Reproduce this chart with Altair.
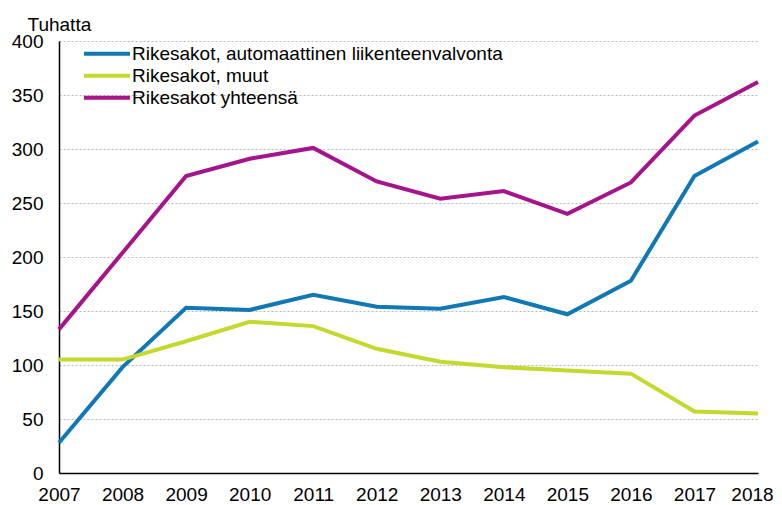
import altair as alt
import pandas as pd

years = list(range(2007, 2019))
auto = [28, 98, 153, 151, 165, 154, 152, 163, 147, 178, 275, 307]
muut = [105, 105, 122, 140, 136, 115, 103, 98, 95, 92, 57, 55]
total = [133, 204, 275, 291, 301, 270, 254, 261, 240, 269, 331, 362]

series = ["Rikesakot, automaattinen liikenteenvalvonta", "Rikesakot, muut", "Rikesakot yhteensä"]
colors = ["#1078b4", "#c4d82e", "#a6148c"]

rows = []
for name, vals in zip(series, [auto, muut, total]):
    for y, v in zip(years, vals):
        rows.append({"Vuosi": y, "Arvo": v, "Sarja": name})
df = pd.DataFrame(rows)

FONT = "Liberation Sans"

chart = alt.Chart(df).mark_line(strokeWidth=4).encode(
    x=alt.X("Vuosi:Q",
            scale=alt.Scale(domain=[2007, 2018], nice=False, zero=False),
            axis=alt.Axis(values=years, format="d", title=None, grid=False,
                          ticks=False, labelPadding=12, labelFlush=False,
                          labelOffset={"condition": {"test": "datum.value == 2018", "value": -6},
                                       "value": 0},
                          domainColor="#000000", domainWidth=1.5)),
    y=alt.Y("Arvo:Q",
            scale=alt.Scale(domain=[0, 400], nice=False),
            axis=alt.Axis(values=list(range(0, 401, 50)), title="Tuhatta",
                          titleAngle=0, titleAlign="left", titleBaseline="alphabetic",
                          titleX=-32, titleY=-11, titleFontWeight="normal",
                          titleFontSize=19, titleFont=FONT, titleColor="#000000",
                          ticks=False, labelPadding=16, grid=True,
                          gridDash=[2, 2], gridColor="#b8b8b8", gridWidth=1,
                          domainColor="#000000", domainWidth=1.5)),
    color=alt.Color("Sarja:N",
                    scale=alt.Scale(domain=series, range=colors),
                    sort=series,
                    legend=alt.Legend(title=None, orient="none", legendX=23, legendY=2,
                                      symbolType="stroke", symbolSize=2116,
                                      symbolStrokeWidth=4, labelFontSize=19,
                                      labelFont=FONT, labelColor="#000000",
                                      labelOffset=0, rowPadding=0, padding=0,
                                      clipHeight=21.5, labelLimit=500)),
).properties(
    width=699, height=432,
    autosize=alt.AutoSizeParams(type="none"),
    padding={"left": 51, "top": 33, "right": 16, "bottom": 32},
).configure_axis(
    labelFont=FONT, labelFontSize=19, labelColor="#000000"
).configure_view(strokeWidth=0)

chart.save("out.html", embed_options={"renderer": "svg", "actions": False})
